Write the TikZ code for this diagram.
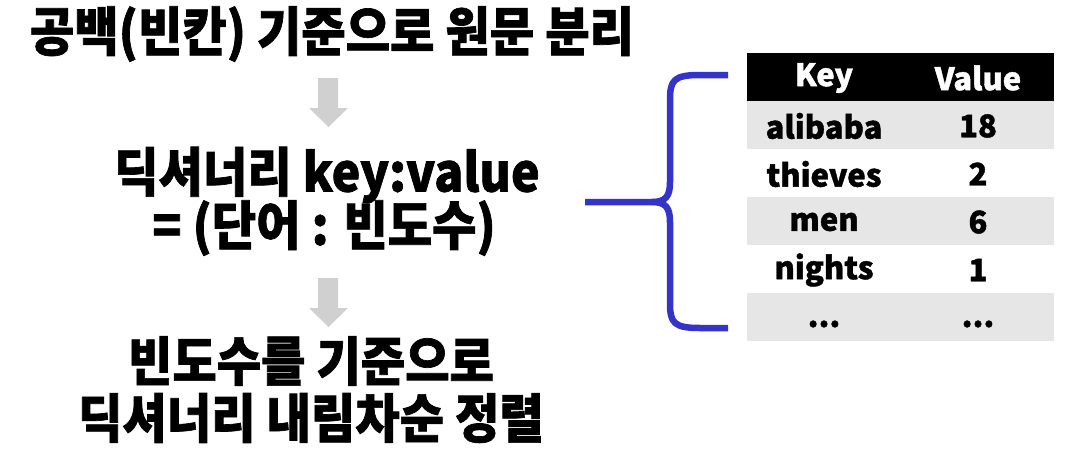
\documentclass[tikz,border=0pt]{standalone}
\usepackage{fontspec}
\setmainfont{Noto Sans CJK KR}
\newfontfamily\heavy{Noto Sans CJK KR}[BoldFeatures={FakeBold=1.3}, FakeStretch=0.91]
\newfontfamily\cellfont{Noto Sans CJK KR}[BoldFeatures={FakeBold=1.3}]
\definecolor{bracecol}{RGB}{52,52,200}
\definecolor{arrowgray}{RGB}{208,208,208}
\definecolor{rowgray}{RGB}{230,230,230}
\tikzset{
  bigtxt/.style={font=\heavy\bfseries\fontsize{53}{60}\selectfont, inner sep=0pt, align=center},
  celltxt/.style={font=\cellfont\bfseries\fontsize{31}{36}\selectfont, inner sep=0pt},
  headtxt/.style={celltxt, text=white},
  blockarrow/.style={fill=arrowgray},
  bracepath/.style={draw=bracecol, line width=6.5pt, line cap=butt, line join=round}
}
\begin{document}
\begin{tikzpicture}[x=1pt,y=-1pt]
\useasboundingbox (0,0) rectangle (1077,461);
% left texts
\node[bigtxt] (l1) at (332,34) {공백(빈칸) 기준으로 원문 분리};
\node[bigtxt] (l2) at (327,175) {딕셔너리 key:value};
\node[bigtxt] (l3) at (324,228) {= (단어 : 빈도수)};
\node[bigtxt] (l4) at (311,361) {빈도수를 기준으로};
\node[bigtxt] (l5) at (311,418) {딕셔너리 내림차순 정렬};
% block arrows
\fill[blockarrow] (318,78) -- (338,78) -- (338,108) -- (348,108) -- (328.5,127) -- (309,108) -- (318,108) -- cycle;
\fill[blockarrow] (318,278) -- (338,278) -- (338,308) -- (348,308) -- (328.5,327) -- (309,308) -- (318,308) -- cycle;
% brace
\coordinate (btip) at (652,202);
\coordinate (bleft) at (585,202);
\coordinate (btop) at (728,75);
\coordinate (bbot) at (728,328);
\draw[bracepath] (btop) -- (700,75) .. controls (674,75) and (670,80) .. (670,100) -- (670,182) .. controls (670,196) and (666,202) .. (btip) -- (bleft);
\draw[bracepath] (btip) .. controls (666,202) and (670,208) .. (670,222) -- (670,303) .. controls (670,323) and (674,328) .. (700,328) -- (bbot);
% table
\fill[black] (747,53) rectangle (1054,101);
\fill[rowgray] (747,101) rectangle (1054,149);
\fill[rowgray] (747,197) rectangle (1054,245);
\fill[rowgray] (747,293) rectangle (1054,341);
\node[headtxt] (hk) at (824,78) {Key};
\node[headtxt] (hv) at (978,78) {Value};
\node[celltxt] (k1) at (824,126) {alibaba};
\node[celltxt] (v1) at (978,126) {18};
\node[celltxt] (k2) at (824,174) {thieves};
\node[celltxt] (v2) at (978,174) {2};
\node[celltxt] (k3) at (824,222) {men};
\node[celltxt] (v3) at (978,222) {6};
\node[celltxt] (k4) at (824,270) {nights};
\node[celltxt] (v4) at (978,270) {1};
\node[celltxt] (k5) at (824,324) {...};
\node[celltxt] (v5) at (978,324) {...};
\end{tikzpicture}
\end{document}
